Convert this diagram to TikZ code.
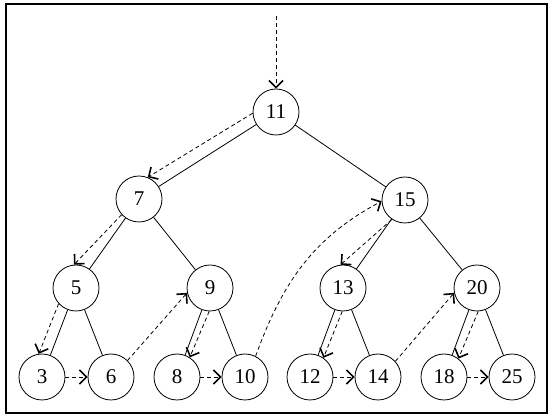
\documentclass[tikz,border=0pt]{standalone}
\usepackage{fontspec}
\setmainfont{Liberation Serif}
\usetikzlibrary{arrows.meta}
\begin{document}
\begin{tikzpicture}[x=1pt,y=-1pt,
  tn/.style={circle,draw,line width=0.8pt,minimum size=46pt,inner sep=0pt,font=\fontsize{21}{21}\selectfont},
  edge/.style={line width=0.8pt},
  tipstyle/.tip={Straight Barb[length=7pt,width=14pt,line width=1.6pt]},
  trav/.style={line width=0.8pt,dash pattern=on 4pt off 3pt,-tipstyle}]
\useasboundingbox (0,0) rectangle (555,419);
\draw[line width=1.3pt] (6,4) rectangle (547,413);
\node[tn] (n11) at (276,112) {11};
\node[tn] (n7) at (139,199) {7};
\node[tn] (n15) at (405,200) {15};
\node[tn] (n5) at (76,288) {5};
\node[tn] (n9) at (210,288) {9};
\node[tn] (n13) at (343,288) {13};
\node[tn] (n20) at (477,288) {20};
\node[tn] (n3) at (42,377) {3};
\node[tn] (n6) at (111,377) {6};
\node[tn] (n8) at (177,377) {8};
\node[tn] (n10) at (245,377) {10};
\node[tn] (n12) at (310,377) {12};
\node[tn] (n14) at (378,377) {14};
\node[tn] (n18) at (444,377) {18};
\node[tn] (n25) at (512,377) {25};
\coordinate (start) at (276,16);
% tree edges
\draw[edge] (n11) -- (n7);
\draw[edge] (n11) -- (n15);
\draw[edge] (n7) -- (n5);
\draw[edge] (n7) -- (n9);
\draw[edge] (n15) -- (n13);
\draw[edge] (n15) -- (n20);
\draw[edge] (n5) -- (n3);
\draw[edge] (n5) -- (n6);
\draw[edge] (n9) -- (n8);
\draw[edge] (n9) -- (n10);
\draw[edge] (n13) -- (n12);
\draw[edge] (n13) -- (n14);
\draw[edge] (n20) -- (n18);
\draw[edge] (n20) -- (n25);
% traversal
\draw[trav] (start) -- (n11.north);
\draw[trav] (n11.183) -- (n7.68);
\draw[trav] (n7.222) -- (n5.95);
\draw[trav] (n5.222) -- (n3.98);
\draw[trav] (n3) -- (n6);
\draw[trav] (n6.45) -- (n9.192);
\draw[trav] (n9.268) -- (n8.57);
\draw[trav] (n8) -- (n10);
\draw[trav] (n10.63) to[out=70,in=208] (n15.183);
\draw[trav] (n15.236) -- (n13.96);
\draw[trav] (n13.268) -- (n12.55);
\draw[trav] (n12) -- (n14);
\draw[trav] (n14.42) -- (n20.192);
\draw[trav] (n20.273) -- (n18.52);
\draw[trav] (n18) -- (n25);
\end{tikzpicture}
\end{document}
